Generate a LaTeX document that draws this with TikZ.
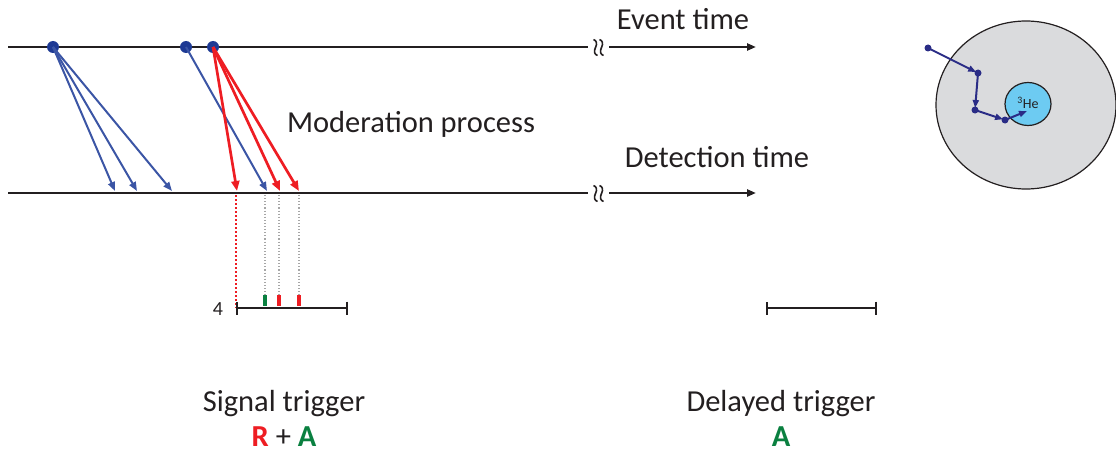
\documentclass[tikz,border=0pt]{standalone}
\usepackage{fontspec}
\setmainfont{Carlito}
\usetikzlibrary{arrows.meta}
\definecolor{axis}{HTML}{231F20}
\definecolor{nblue}{HTML}{3B55A5}
\definecolor{dotblue}{HTML}{1E3A94}
\definecolor{sred}{HTML}{EE1D23}
\definecolor{sgreen}{HTML}{0A8040}
\definecolor{navy}{HTML}{2A2C86}
\definecolor{cellgray}{HTML}{DADBDD}
\definecolor{hecyan}{HTML}{6DCBF2}
\definecolor{txt}{HTML}{231F20}
\begin{document}
\begin{tikzpicture}[x=1pt,y=-1pt,
  axisline/.style={draw=axis,line width=2.4pt},
  timearrow/.style={axisline,-{Triangle[length=9pt,width=7pt]}},
  breakmark/.style={draw=axis,line width=1.6pt},
  event/.style={circle,fill=dotblue,inner sep=0pt,minimum size=12pt},
  bluepath/.style={draw=nblue,line width=2pt,-{Triangle[length=9pt,width=7pt]}},
  redpath/.style={draw=sred,line width=2.7pt,-{Triangle[length=10pt,width=8pt]}},
  gaugeline/.style={draw=gray!70,dotted,line width=1.1pt},
  reddots/.style={draw=sred,dotted,line width=2pt},
  tick/.style={line width=3.2pt},
  scalebar/.style={draw=axis,line width=2pt,{Bar[width=13pt]}-{Bar[width=13pt]}},
  label/.style={text=txt,font=\fontsize{30.5}{36}\selectfont,inner sep=0pt},
  walkdot/.style={circle,fill=navy,inner sep=0pt,minimum size=7pt},
  walk/.style={draw=navy,line width=2pt,-{Triangle[length=8pt,width=6pt]},shorten >=2pt}
]
\useasboundingbox (0,0) rectangle (1116,452);

% ---- time axes ----
\coordinate (evL) at (8,47);
\coordinate (evB) at (588,47);
\coordinate (evR0) at (609,47);
\coordinate (evR) at (756,47);
\coordinate (deL) at (8,193);
\coordinate (deB) at (588,193);
\coordinate (deR0) at (609,193);
\coordinate (deR) at (756,193);
\draw[axisline] (evL) -- (evB);
\draw[timearrow] (evR0) -- (evR);
\draw[axisline] (deL) -- (deB);
\draw[timearrow] (deR0) -- (deR);

% axis break marks (two wavy strokes)
\foreach \yy in {47.5,193.5}{
  \foreach \xx in {595.5,601.5}{
    \draw[breakmark] (\xx-2,\yy-8) .. controls (\xx+1,\yy-7) and (\xx+2,\yy-4) .. (\xx,\yy)
                     .. controls (\xx-2,\yy+4) and (\xx-1,\yy+7) .. (\xx+2,\yy+8);
  }
}

\node[label,anchor=base] (evtxt) at (683,30) {Event time};
\node[label,anchor=base] (detxt) at (717,167) {Detection time};
\node[label,anchor=base] (modtxt) at (411,132) {Moderation process};

% ---- event dots ----
\node[event] (e1) at (53,47) {};
\node[event] (e2) at (186,47) {};
\node[event] (e3) at (213,47) {};

% arrival points on the detection axis
\coordinate (b1) at (115,191);
\coordinate (b2) at (137,191);
\coordinate (b3) at (172,191);
\coordinate (b4) at (267,191);
\coordinate (r1) at (237,191);
\coordinate (r2) at (280,191);
\coordinate (r3) at (299,191);

\draw[bluepath] (e1.center) -- (b1);
\draw[bluepath] (e1.center) -- (b2);
\draw[bluepath] (e1.center) -- (b3);
\draw[bluepath] (e2.center) -- (b4);
\draw[redpath] (e3.center) -- (r1);
\draw[redpath] (e3.center) -- (r2);
\draw[redpath] (e3.center) -- (r3);

% ---- projection onto the trigger window ----
\coordinate (p1) at (236,195);
\coordinate (q1) at (236,308);
\coordinate (p2) at (265,195);
\coordinate (q2) at (265,296);
\coordinate (p3) at (279,195);
\coordinate (q3) at (279,296);
\coordinate (p4) at (299,195);
\coordinate (q4) at (299,296);
\draw[reddots] (p1) -- (q1);
\draw[gaugeline] (p2) -- (q2);
\draw[gaugeline] (p3) -- (q3);
\draw[gaugeline] (p4) -- (q4);

\coordinate (w1) at (236,308);
\coordinate (w2) at (348,308);
\draw[scalebar] (w1) -- (w2);
\draw[tick,sgreen] (265,295) -- (265,306);
\draw[tick,sred] (279,295) -- (279,306);
\draw[tick,sred] (299,295) -- (299,306);
\node[text=txt,font=\fontsize{20}{24}\selectfont,inner sep=0pt,anchor=base] (four) at (218,315) {4};

\coordinate (d1) at (766,308);
\coordinate (d2) at (877,308);
\draw[scalebar] (d1) -- (d2);

% ---- trigger labels ----
\node[label,anchor=base] (sigtxt) at (284,411) {Signal trigger};
\node[label,anchor=base] (sigra) at (284,446) {\textbf{\textcolor{sred}{R}} + \textbf{\textcolor{sgreen}{A}}};
\node[label,anchor=base] (deltxt) at (781,411) {Delayed trigger};
\node[label,anchor=base] (dela) at (781,446) {\textbf{\textcolor{sgreen}{A}}};

% ---- detector cell with 3He counter ----
\draw[draw=axis,line width=1.2pt,fill=cellgray] (1026,105) ellipse [x radius=90, y radius=84];
\draw[draw=axis,line width=1.2pt,fill=hecyan] (1028,104) ellipse [x radius=23, y radius=21.5];
\node[text=txt,font=\fontsize{14}{16}\selectfont,inner sep=0pt] (he) at (1028,103) {\textsuperscript{3}He};

\node[walkdot] (n0) at (928,48) {};
\node[walkdot] (n1) at (978,73) {};
\node[walkdot] (n2) at (975,110) {};
\node[walkdot] (n3) at (1005,120) {};
\coordinate (n4) at (1027,111);
\draw[walk] (n0.center) -- (n1.center);
\draw[walk] (n1.center) -- (n2.center);
\draw[walk] (n2.center) -- (n3.center);
\draw[walk,shorten >=0pt] (n3.center) -- (n4);
\end{tikzpicture}
\end{document}
